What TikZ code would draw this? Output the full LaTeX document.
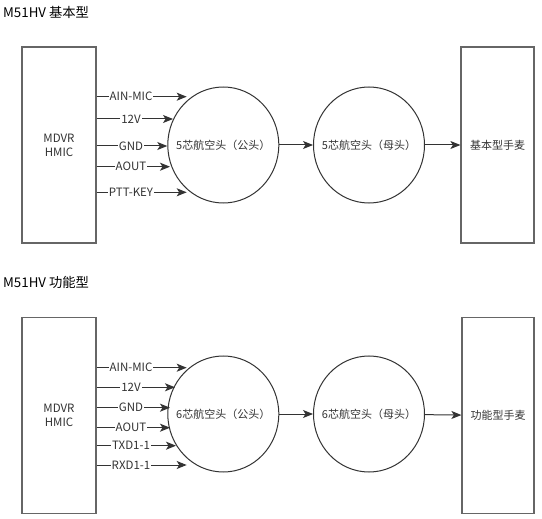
\documentclass[tikz,border=0pt]{standalone}
\usepackage{fontspec}
\setmainfont{Noto Sans CJK SC}
\usetikzlibrary{arrows.meta,positioning,shapes.geometric}

\definecolor{txtgray}{HTML}{333333}
\definecolor{boxgray}{HTML}{666666}

\tikzset{
    blk/.style={draw=boxgray, line width=1.2pt, minimum width=74pt, minimum height=196pt, align=center, text=txtgray, font=\fontsize{11.5}{14}\selectfont},
    plug/.style={draw=txtgray, line width=1pt, ellipse, inner sep=0pt, minimum width=111pt, minimum height=116pt, label={[text=txtgray, font=\fontsize{11}{13}\selectfont]center:#1}},
    sig/.style={draw=txtgray, line width=1pt, -{Stealth[length=10pt,width=8pt,inset=2.5pt]}},
    lbl/.style={fill=white, inner sep=1pt, text=txtgray, font=\fontsize{11.5}{13}\selectfont},
    ttl/.style={anchor=west, inner sep=0pt, font=\fontsize{13.3}{15}\selectfont}
}

\begin{document}
\begin{tikzpicture}[x=1pt, y=-1pt]
    \useasboundingbox (0,0) rectangle (542,519);

    \node[ttl] (t1) at (3,12) {M51HV 基本型};
    \node[blk] (mdvr1) at (59,145) {MDVR\\HMIC};
    \node[plug=5芯航空头（公头）] (male1) at (223.3,145) {};
    \node[plug=5芯航空头（母头）] (female1) at (369,145) {};
    \node[blk, minimum width=73pt, font=\fontsize{11}{13}\selectfont] (mic1) at (497.5,145) {基本型手麦};

    \foreach \y/\x/\t [count=\i] in {96.7/186.7/AIN-MIC, 119/173/12V, 146/167.3/GND, 166.7/170/AOUT, 192.3/186.7/PTT-KEY} {
        \coordinate (pa\i) at (\x,\y);
        \draw[sig] (mdvr1.east |- pa\i) -- (pa\i);
        \node[lbl] at (131,\y) {\t};
    }
    \draw[sig] (male1) -- (female1);
    \draw[sig] (female1) -- (mic1);

    \node[ttl] (t2) at (3,282) {M51HV 功能型};
    \node[blk] (mdvr2) at (59,415.5) {MDVR\\HMIC};
    \node[plug=6芯航空头（公头）] (male2) at (223.3,414) {};
    \node[plug=6芯航空头（母头）] (female2) at (369,414) {};
    \node[blk, minimum width=72pt, font=\fontsize{11}{13}\selectfont] (mic2) at (498,415.5) {功能型手麦};

    \foreach \y/\x/\t [count=\i] in {367.7/186.7/AIN-MIC, 387.3/175/12V, 407.7/170/GND, 427.7/170/AOUT, 445.7/176/TXD1-1, 465/186.7/RXD1-1} {
        \coordinate (pb\i) at (\x,\y);
        \draw[sig] (mdvr2.east |- pb\i) -- (pb\i);
        \node[lbl] at (131,\y) {\t};
    }
    \draw[sig] (male2) -- (female2);
    \draw[sig] (female2) -- (mic2);
\end{tikzpicture}
\end{document}
